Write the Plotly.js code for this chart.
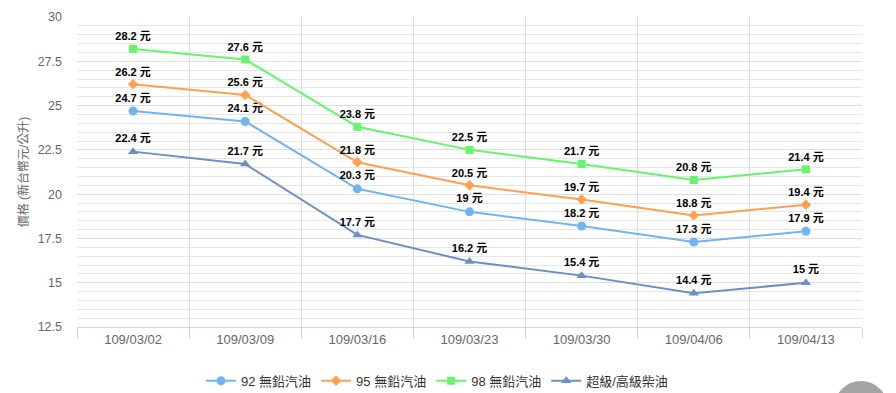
<!DOCTYPE html>
<html>
<head>
<meta charset="utf-8">
<script src="https://cdn.plot.ly/plotly-3.0.1.min.js"></script>
<style>html,body{margin:0;padding:0;background:#fff;}#chart{width:896px;height:393px;}</style>
</head>
<body>
<div id="chart"></div>
<script>
const dates = ["109/03/02","109/03/09","109/03/16","109/03/23","109/03/30","109/04/06","109/04/13"];
const seriesNames = ["92 無鉛汽油","95 無鉛汽油","98 無鉛汽油","超級/高級柴油"];
const gas92 = [24.7, 24.1, 20.3, 19, 18.2, 17.3, 17.9];
const gas95 = [26.2, 25.6, 21.8, 20.5, 19.7, 18.8, 19.4];
const gas98 = [28.2, 27.6, 23.8, 22.5, 21.7, 20.8, 21.4];
const diesel = [22.4, 21.7, 17.7, 16.2, 15.4, 14.4, 15];
const yTicks = [12.5, 15, 17.5, 20, 22.5, 25, 27.5, 30];

const colors = ["#72b4f0", "#ff9f50", "#66f56a", "#6b8fc6"];
const symbols = ["circle", "diamond", "square", "triangle-up"];
const sizes = [9, 8, 8, 9];
const allData = [gas92, gas95, gas98, diesel];
const xIdx = dates.map((d, i) => i);
const FONT = "Liberation Sans, Arial, Noto Sans CJK TC, sans-serif";

const traces = allData.map((vals, k) => ({
  type: "scatter",
  mode: "lines+markers+text",
  name: seriesNames[k],
  x: xIdx,
  y: vals,
  text: vals.map(v => "<b>" + v + " 元</b>"),
  textposition: "top center",
  textfont: {family: FONT, size: 11, color: "#000"},
  line: {color: colors[k], width: 2},
  marker: {color: colors[k], symbol: symbols[k], size: sizes[k]},
  cliponaxis: false,
  hoverinfo: "x+y"
}));

const layout = {
  width: 896, height: 393,
  margin: {l: 77, r: 34, t: 17, b: 66, autoexpand: false},
  paper_bgcolor: "#fff", plot_bgcolor: "#fff",
  font: {family: FONT, color: "#666"},
  showlegend: true,
  legend: {orientation: "h", x: (437-77)/785, xanchor: "center", y: -0.125, yanchor: "top",
           font: {family: FONT, size: 13, color: "#333"}, itemwidth: 30, traceorder: "normal"},
  xaxis: {
    range: [-0.5, 6.5], tickvals: xIdx, ticktext: dates, showgrid: false,
    ticks: "", tickfont: {size: 13, color: "#666"}, zeroline: false,
    showline: true, linecolor: "#ccd6eb", linewidth: 1,
    minor: {tick0: -0.5, dtick: 1, showgrid: true, gridcolor: "#dddddd", gridwidth: 1,
            ticks: "outside", ticklen: 10, tickcolor: "#ccd6eb"},
    fixedrange: true
  },
  yaxis: {
    range: [12.5, 30], tickvals: yTicks, ticktext: yTicks.map(String),
    showgrid: true, gridcolor: "#dddddd", gridwidth: 1, zeroline: false,
    tickfont: {size: 12.5, color: "#666"}, ticks: "", ticklabelstandoff: 14,
    minor: {dtick: 0.5, showgrid: true, gridcolor: "#e6e6e6", gridwidth: 1},
    title: {text: "價格 (新台幣元/公升)", font: {size: 12, color: "#666"}, standoff: 6},
    automargin: false,
    fixedrange: true
  },
  shapes: [{type: "circle", xref: "paper", yref: "paper",
            x0: (834-77)/785, x1: (888-77)/785, y0: (327-435)/310, y1: (327-381)/310,
            fillcolor: "#a3a3a3", line: {width: 0}, layer: "above"}]
};

Plotly.newPlot("chart", traces, layout, {displayModeBar: false, staticPlot: true});
</script>
</body>
</html>
